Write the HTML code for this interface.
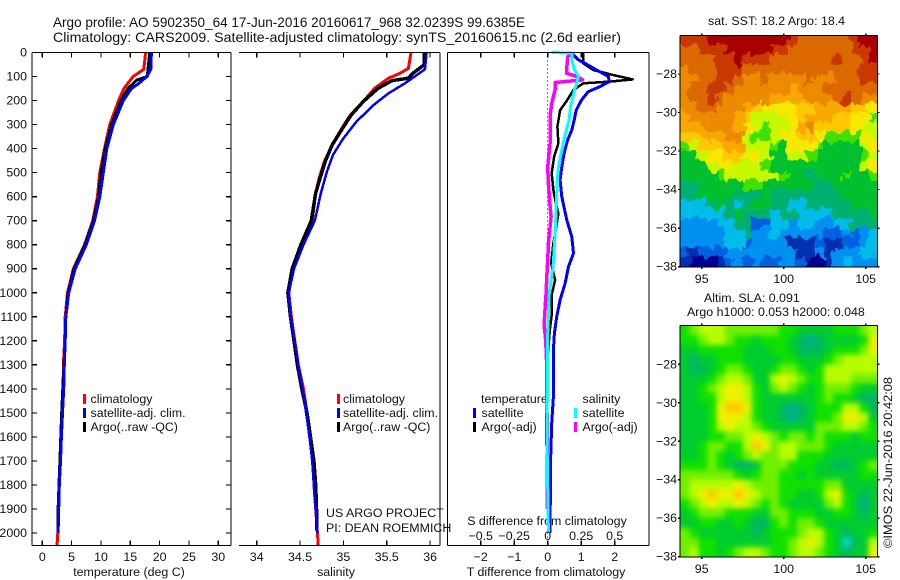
<!DOCTYPE html>
<html>
<head>
<meta charset="utf-8">
<title>Argo profile</title>
<style>
html,body{margin:0;padding:0;background:#fff;}
#chart{display:block;width:900px;height:580px;}
text{font-family:"Liberation Sans",sans-serif;font-size:12.4px;fill:#111;}
.title{font-size:14px;}
</style>
</head>
<body>
<svg id="chart" xmlns="http://www.w3.org/2000/svg" width="900" height="580" viewBox="0 0 900 580">
<defs>
<clipPath id="sstClip"><rect x="680" y="35.5" width="197.5" height="231.5"/></clipPath>
<clipPath id="slaClip"><rect x="680" y="325.5" width="197.5" height="231.5"/></clipPath>
<filter id="sstTexture" color-interpolation-filters="sRGB">
<feTurbulence type="fractalNoise" baseFrequency="0.14 0.09" numOctaves="2" seed="4" result="noise"/>
<feDisplacementMap in="SourceGraphic" in2="noise" scale="14" xChannelSelector="R" yChannelSelector="G" result="shifted"/>
<feMerge><feMergeNode in="SourceGraphic"/><feMergeNode in="shifted"/></feMerge>
</filter>
<filter id="slaSmooth" color-interpolation-filters="sRGB">
<feGaussianBlur in="SourceGraphic" stdDeviation="2.6"/>
<feComponentTransfer><feFuncA type="linear" slope="40"/></feComponentTransfer>
</filter>
</defs>
<rect width="900" height="580" fill="#fff"/>
<text class="title" x="53" y="27" textLength="472" lengthAdjust="spacingAndGlyphs">Argo profile: AO 5902350_64 17-Jun-2016 20160617_968 32.0239S 99.6385E</text>
<text class="title" x="53" y="42" textLength="568" lengthAdjust="spacingAndGlyphs">Climatology: CARS2009. Satellite-adjusted climatology: synTS_20160615.nc (2.6d earlier)</text>
<text x="129" y="576" text-anchor="middle">temperature (deg C)</text>
<text x="336" y="576" text-anchor="middle">salinity</text>
<text x="546" y="576" text-anchor="middle">T difference from climatology</text>
<text x="547" y="525" text-anchor="middle">S difference from climatology</text>
<text x="326" y="517">US ARGO PROJECT</text>
<text x="326" y="532">PI: DEAN ROEMMICH</text>
<text x="708" y="25">sat. SST: 18.2 Argo: 18.4</text>
<text x="704" y="302">Altim. SLA: 0.091</text>
<text x="687" y="316">Argo h1000: 0.053 h2000: 0.048</text>
<text x="0" y="0" transform="translate(892,548) rotate(-90)" textLength="171" lengthAdjust="spacingAndGlyphs">©IMOS 22-Jun-2016 20:42:08</text>
<g>
<rect x="83" y="394" width="3" height="10" fill="#f00"/>
<text x="90.5" y="403">climatology</text>
<rect x="83" y="408" width="3" height="10" fill="#00f"/>
<text x="90.5" y="417">satellite-adj. clim.</text>
<rect x="83" y="422" width="3" height="10" fill="#000"/>
<text x="90.5" y="431">Argo(..raw -QC)</text>
</g>
<g>
<rect x="337" y="394" width="3" height="10" fill="#f00"/>
<text x="343" y="403">climatology</text>
<rect x="337" y="408" width="3" height="10" fill="#00f"/>
<text x="343" y="417">satellite-adj. clim.</text>
<rect x="337" y="422" width="3" height="10" fill="#000"/>
<text x="343" y="431">Argo(..raw -QC)</text>
</g>
<g>
<text x="481" y="403">temperature</text>
<rect x="473" y="408" width="3" height="10" fill="#00f"/>
<text x="481.5" y="417">satellite</text>
<rect x="473" y="422" width="3" height="10" fill="#000"/>
<text x="481.5" y="431">Argo(-adj)</text>
<text x="582.5" y="403">salinity</text>
<rect x="574" y="408" width="3" height="10" fill="#0ff"/>
<text x="582.5" y="417">satellite</text>
<rect x="574" y="422" width="3" height="10" fill="#f0f"/>
<text x="582.5" y="431">Argo(-adj)</text>
</g>
</svg>
<script>
// ---------- tick labels ----------
const depthTicks = [0,100,200,300,400,500,600,700,800,900,1000,1100,1200,1300,1400,1500,1600,1700,1800,1900,2000];
const tempTicks = [0,5,10,15,20,25,30];
const salTicks = [34,34.5,35,35.5,36];
const tDiffTicks = [-2,-1,0,1,2];
const sDiffTicks = [-0.5,-0.25,0,0.25,0.5];
const lonTicks = [95,100,105];
const latTicks = [-28,-30,-32,-34,-36,-38];

// ---------- temperature profiles ----------
const tempClimDepth = [0,70,100,150,200,300,400,500,600,700,800,900,1000,1100,1200,1300,1400,1500,1600,1700,1800,1900,2000,2054];
const tempClimValue = [17.6,17.3,15.5,13.9,13.0,11.5,10.6,9.8,9.4,8.6,7.2,5.3,4.3,3.9,3.8,3.6,3.55,3.4,3.25,3.07,2.9,2.8,2.65,2.5];
const tempArgoDepth = [0,100,115,150,200,300,400,500,600,700,800,900,1000,1100,1200,1300,1400,1500,1600,1700,1800,1900,2000];
const tempArgoValue = [18.3,17.9,16.1,14.6,13.4,11.8,10.7,10.0,9.6,8.7,7.3,5.4,4.4,4.0,3.9,3.7,3.5,3.3,3.15,3.0,2.85,2.7,2.65];
const tempSatDepth = [0,70,100,130,150,200,300,400,500,600,700,800,900,1000,1100,1200,1300,1400,1500,1600,1700,1800,1900,2000];
const tempSatValue = [18.6,18.5,17.8,16.4,15.2,13.8,12.1,11.0,10.4,9.8,8.9,7.5,5.6,4.5,4.0,3.9,3.75,3.65,3.45,3.25,3.1,2.9,2.8,2.7];

// ---------- salinity profiles ----------
const salClimDepth = [0,66,87,107,149,204,260,316,385,454,524,585,700,800,900,1000,1100,1200,1300,1400,1500,1600,1700,1800,1900,2000,2054];
const salClimValue = [35.78,35.75,35.65,35.52,35.36,35.23,35.08,34.98,34.87,34.78,34.72,34.68,34.64,34.52,34.42,34.37,34.40,34.44,34.48,34.54,34.58,34.61,34.65,34.66,34.68,34.70,34.71];
const salArgoDepth = [0,52,87,107,117,149,204,260,316,385,454,524,585,700,800,900,1000,1100,1200,1300,1400,1500,1600,1700,1800,1900,1990];
const salArgoValue = [35.93,35.93,35.80,35.75,35.56,35.40,35.23,35.09,34.99,34.87,34.79,34.73,34.68,34.63,34.51,34.41,34.36,34.39,34.43,34.47,34.52,34.58,34.62,34.66,34.68,34.69,34.69];
const salSatDepth = [0,70,93,128,170,218,288,357,426,496,585,700,800,900,1000,1100,1200,1300,1400,1500,1600,1700,1800,1900,2000];
const salSatValue = [35.96,35.94,35.85,35.71,35.52,35.35,35.15,35.00,34.88,34.81,34.74,34.67,34.54,34.43,34.37,34.39,34.44,34.48,34.53,34.57,34.61,34.64,34.66,34.68,34.70];

// ---------- difference profiles ----------
const dTSatDepth = [3,31,45,73,100,121,142,163,198,240,281,323,365,420,476,531,600,697,767,836,891,961,1030,1100,1169,1238,1363,1433,1543,1682,2000];
const dTSatValue = [0.72,0.92,1.11,1.46,1.81,1.84,1.56,1.21,1.01,0.85,0.79,0.72,0.59,0.49,0.42,0.37,0.42,0.57,0.72,0.77,0.62,0.52,0.37,0.27,0.20,0.17,0.17,0.17,0.12,0.09,0.07];
const dTArgoDepth = [3,45,73,94,112,121,128,156,205,240,309,378,434,503,573,642,670,794,877,947,1009,1092,1148,1307,1543,1800,2000];
const dTArgoValue = [1.06,1.06,1.36,1.96,2.54,1.86,1.06,0.77,0.55,0.37,0.29,0.32,0.19,0.12,0.17,0.27,0.32,0.17,0.10,0.22,0.12,0.12,0.07,-0.03,-0.05,-0.01,0.02];
const dSSatDepth = [0,3,31,73,100,121,156,226,281,365,476,545,614,698,753,891,1002,1169,1363,1543,2000];
const dSSatValue = [0.03,0.18,0.18,0.20,0.23,0.22,0.20,0.17,0.16,0.12,0.08,0.07,0.065,0.06,0.055,0.04,0.012,0,0,-0.007,0.005];
const dSArgoDepth = [3,17,45,87,100,114,125,156,212,253,365,476,545,656,683,794,870,933,1002,1072,1134,1197,1307,1500,1700,1900];
const dSArgoValue = [0.18,0.15,0.145,0.14,0.22,0.26,0.055,0.055,0.03,0.02,0.02,0,0.005,0.02,0.025,0.005,0,-0.007,-0.012,-0.02,-0.027,-0.015,-0.007,-0.005,-0.004,-0.004];

// ---------- map grids (colour levels; rows north to south) ----------
const sstRow00 = [14,14,14,15,15,15,15,15,15,15,15,15,14,13,13,13,13,13,13,14,15,15];
const sstRow01 = [13,13,14,14,14,15,15,15,15,15,14,14,13,13,13,13,13,13,13,14,14,15];
const sstRow02 = [13,13,13,13,14,14,15,14,14,14,13,13,13,13,13,13,13,14,13,13,14,15];
const sstRow03 = [12,13,13,13,14,14,14,13,13,13,13,13,13,13,13,13,13,13,13,13,14,14];
const sstRow04 = [12,12,13,13,14,14,13,12,12,13,12,12,12,12,13,12,12,13,13,13,14,14];
const sstRow05 = [12,13,13,14,14,13,12,12,12,12,12,12,11,12,12,12,13,13,13,13,13,13];
const sstRow06 = [12,13,13,14,13,12,12,12,12,12,11,11,11,11,12,12,12,13,14,13,12,12];
const sstRow07 = [12,12,13,13,12,12,12,11,10,9,9,9,9,10,10,11,11,11,11,10,10,9];
const sstRow08 = [11,12,12,12,12,12,11,10,8,8,8,8,9,10,11,11,11,10,10,9,9,7];
const sstRow09 = [11,11,11,12,12,12,11,9,8,7,8,8,9,11,12,10,10,10,10,9,8,8];
const sstRow10 = [10,10,11,11,11,12,12,8,7,7,8,9,9,10,10,9,7,7,7,7,9,8];
const sstRow11 = [7,8,10,10,10,11,11,8,8,8,7,6,9,9,9,7,6,6,6,6,8,9];
const sstRow12 = [6,6,8,9,9,10,10,9,9,8,6,6,8,8,7,6,6,6,6,6,7,8];
const sstRow13 = [6,6,6,8,9,9,8,8,8,7,6,6,6,6,6,6,6,6,6,6,8,9];
const sstRow14 = [6,6,6,6,7,8,8,8,8,8,8,7,6,6,5,6,6,6,7,6,6,7];
const sstRow15 = [5,5,6,6,6,6,6,7,7,6,6,6,6,6,6,5,5,6,6,6,6,6];
const sstRow16 = [5,5,6,6,6,6,5,5,5,6,5,5,5,5,5,5,5,5,6,6,6,6];
const sstRow17 = [4,4,4,5,6,5,4,5,6,6,5,5,4,4,5,5,5,5,5,6,6,6];
const sstRow18 = [4,4,4,4,4,5,6,5,5,5,4,5,5,4,4,4,4,5,5,5,5,6];
const sstRow19 = [3,3,3,3,4,4,5,5,2,2,4,4,3,4,4,3,3,4,4,5,5,5];
const sstRow20 = [3,3,3,3,3,4,4,5,3,3,4,3,3,3,3,3,2,2,3,2,3,4];
const sstRow21 = [3,3,3,3,3,4,4,2,3,3,3,3,1,1,1,2,1,1,2,2,3,4];
const sstRow22 = [2,1,2,2,2,3,3,3,3,3,3,3,3,1,1,3,1,3,3,3,4,4];
const sstRow23 = [1,0,0,0,1,2,3,2,3,2,2,3,3,2,0,0,1,3,4,3,3,3];
const sstGrid = [sstRow00,sstRow01,sstRow02,sstRow03,sstRow04,sstRow05,sstRow06,sstRow07,sstRow08,sstRow09,sstRow10,sstRow11,sstRow12,sstRow13,sstRow14,sstRow15,sstRow16,sstRow17,sstRow18,sstRow19,sstRow20,sstRow21,sstRow22,sstRow23];

const slaRow00 = [4,5,6,6,6,5,5,5,5,5,5,4,4,3,3,3,3,4,4,4,5,6];
const slaRow01 = [4,4,5,6,6,5,4,4,3,4,4,4,3,2,1,2,3,3,3,3,4,7];
const slaRow02 = [3,3,4,4,4,4,4,3,3,3,4,4,3,2,2,2,3,4,4,4,5,7];
const slaRow03 = [3,2,3,3,4,4,4,3,3,3,3,4,4,3,3,3,4,5,6,6,6,6];
const slaRow04 = [3,2,2,3,4,5,5,4,3,3,4,5,5,4,3,4,6,6,6,6,6,6];
const slaRow05 = [3,3,3,4,5,6,6,5,3,3,6,7,6,5,4,4,6,6,6,5,5,5];
const slaRow06 = [3,3,4,5,6,7,7,6,4,3,5,6,5,4,3,4,5,5,5,4,3,3];
const slaRow07 = [3,3,4,4,6,7,7,6,4,3,3,3,3,3,3,4,5,4,4,3,2,2];
const slaRow08 = [3,3,3,4,7,8,8,7,4,3,3,2,1,2,3,4,4,4,6,6,4,2];
const slaRow09 = [3,3,3,4,7,7,7,6,4,3,3,2,1,2,3,4,4,5,7,7,6,3];
const slaRow10 = [3,3,3,4,6,7,6,6,5,4,3,3,3,3,3,5,5,5,6,6,5,4];
const slaRow11 = [3,3,3,4,4,5,5,6,7,6,5,4,5,5,4,5,4,4,4,3,4,4];
const slaRow12 = [3,3,4,5,5,4,4,6,8,7,5,6,6,5,5,5,4,3,3,3,3,3];
const slaRow13 = [3,3,4,5,4,3,4,5,6,5,5,6,6,4,4,4,3,3,3,3,3,3];
const slaRow14 = [4,4,4,5,4,3,2,2,3,5,5,5,4,4,4,3,3,2,2,3,4,5];
const slaRow15 = [5,5,5,5,5,5,4,3,4,5,5,4,4,3,4,3,3,3,3,3,4,4];
const slaRow16 = [5,6,6,6,6,6,7,6,5,5,5,4,4,4,4,4,5,5,3,3,3,3];
const slaRow17 = [5,6,7,8,7,7,8,7,6,5,5,4,4,3,3,4,6,7,4,3,2,3];
const slaRow18 = [4,5,6,7,6,6,7,6,5,4,5,4,3,3,3,3,5,6,4,3,1,3];
const slaRow19 = [3,4,5,5,5,4,4,4,3,3,5,5,4,4,4,3,3,4,4,3,2,3];
const slaRow20 = [3,3,4,4,3,3,4,3,2,2,4,5,4,5,5,4,3,3,3,3,3,3];
const slaRow21 = [5,4,3,3,3,3,3,3,2,3,4,4,4,5,6,6,4,3,2,3,3,4];
const slaRow22 = [5,5,4,4,3,3,3,3,3,3,4,4,5,6,7,6,4,3,0,2,3,6];
const slaRow23 = [5,6,4,4,3,4,5,6,6,5,4,4,5,6,6,5,4,3,2,3,3,7];
const slaGrid = [slaRow00,slaRow01,slaRow02,slaRow03,slaRow04,slaRow05,slaRow06,slaRow07,slaRow08,slaRow09,slaRow10,slaRow11,slaRow12,slaRow13,slaRow14,slaRow15,slaRow16,slaRow17,slaRow18,slaRow19,slaRow20,slaRow21,slaRow22,slaRow23];

const sstColors = ['#000090','#0030b0','#0060e0','#0090f0','#00bce8','#00b070','#00c030','#40e000','#c8f800','#f8e800','#ffc800','#f8a800','#ec8a00','#dc6800','#c83800','#a80000'];
const slaColors = ['#00d8d0','#00b090','#00b860','#00cc30','#10e000','#70f000','#b8fc00','#f0f000','#ffc800'];

const svg = document.getElementById('chart');
const NS = 'http://www.w3.org/2000/svg';
function mk(tag, parent, attrs) {
  const e = document.createElementNS(NS, tag);
  for (const k in attrs) e.setAttribute(k, attrs[k]);
  parent.appendChild(e);
  return e;
}

// ---------- axis functions ----------
const depthY = d => 52.5 + d * 0.24025;
const tempX = t => 42.3 + t * 5.867;
const salX = s => 256.7 + (s - 34) * 86.7;
const tDiffX = t => 547.7 + t * 33.5;
const sDiffX = s => 547.7 + s * 134;
const lonX = l => 701.7 + (l - 95) * 16.4;
const sstLatY = l => 74 + (-28 - l) * 19.27;
const slaLatY = l => 364.3 + (-28 - l) * 19.24;

const TOP = 52.5, BOT = 545.5;

function axisLine(parent, x1, y1, x2, y2) {
  const el = mk('line', parent, {x1:x1, y1:y1, x2:x2, y2:y2, stroke:'#000', 'stroke-width':1.2, 'shape-rendering':'crispEdges'});
  
  
}
function label(parent, x, y, str, anchor) {
  const el = mk('text', parent, {x:x, y:y, 'text-anchor':anchor});
  el.textContent = str;
  
  
}
function plotLine(parent, depths, values, xf, color, width, name) {
  const pts = depths.map((d, i) => xf(values[i]).toFixed(1) + ',' + depthY(d).toFixed(1)).join(' ');
  const el = mk('polyline', parent, {points:pts, fill:'none', stroke:color, 'stroke-width':width, 'stroke-linejoin':'round', 'shape-rendering':'crispEdges'});
  
  
}

// temperature panel
const gTemp = mk('g', svg, {});


plotLine(gTemp, tempClimDepth, tempClimValue, tempX, '#f00', 3, 'temperature-climatology-line');
plotLine(gTemp, tempArgoDepth, tempArgoValue, tempX, '#000', 3, 'temperature-argo-line');
plotLine(gTemp, tempSatDepth, tempSatValue, tempX, '#00f', 3, 'temperature-satellite-line');
axisLine(gTemp, 32, TOP, 231, TOP);
axisLine(gTemp, 32, BOT, 231, BOT);
axisLine(gTemp, 32, TOP, 32, BOT);
axisLine(gTemp, 231, TOP, 231, BOT);
depthTicks.forEach(d => {
  axisLine(gTemp, 32, depthY(d), 37, depthY(d));
  axisLine(gTemp, 226, depthY(d), 231, depthY(d));
  label(gTemp, 27, depthY(d) + 4, String(d), 'end');
});
tempTicks.forEach(t => {
  axisLine(gTemp, tempX(t), TOP, tempX(t), TOP + 5);
  axisLine(gTemp, tempX(t), BOT - 5, tempX(t), BOT);
  label(gTemp, tempX(t), 561, String(t), 'middle');
});

// salinity panel
const gSal = mk('g', svg, {});


plotLine(gSal, salClimDepth, salClimValue, salX, '#f00', 3, 'salinity-climatology-line');
plotLine(gSal, salArgoDepth, salArgoValue, salX, '#000', 3.5, 'salinity-argo-line');
plotLine(gSal, salSatDepth, salSatValue, salX, '#00f', 2.5, 'salinity-satellite-line');
axisLine(gSal, 239, TOP, 440, TOP);
axisLine(gSal, 239, BOT, 440, BOT);
axisLine(gSal, 440, TOP, 440, BOT);
salTicks.forEach(s => {
  axisLine(gSal, salX(s), TOP, salX(s), TOP + 5);
  axisLine(gSal, salX(s), BOT - 5, salX(s), BOT);
  label(gSal, salX(s), 561, String(s), 'middle');
});

// difference panel
const gDiff = mk('g', svg, {});


const zero = mk('line', gDiff, {x1:tDiffX(0), y1:TOP, x2:tDiffX(0), y2:BOT, stroke:'#000', 'stroke-width':1, 'stroke-dasharray':'1 3', 'shape-rendering':'crispEdges'});


plotLine(gDiff, dTArgoDepth, dTArgoValue, tDiffX, '#000', 2.5, 't-difference-argo-line');
plotLine(gDiff, dSArgoDepth, dSArgoValue, sDiffX, '#f0f', 3.5, 's-difference-argo-line');
plotLine(gDiff, dTSatDepth, dTSatValue, tDiffX, '#00f', 3, 't-difference-satellite-line');
plotLine(gDiff, dSSatDepth, dSSatValue, sDiffX, '#0ff', 3, 's-difference-satellite-line');
axisLine(gDiff, 447.5, TOP, 649, TOP);
axisLine(gDiff, 447.5, BOT, 649, BOT);
axisLine(gDiff, 447.5, TOP, 447.5, BOT);
axisLine(gDiff, 649, TOP, 649, BOT);
tDiffTicks.forEach(t => {
  axisLine(gDiff, tDiffX(t), TOP, tDiffX(t), TOP + 5);
  axisLine(gDiff, tDiffX(t), BOT - 5, tDiffX(t), BOT);
  label(gDiff, tDiffX(t), 561, String(t).replace('-', '\u2212'), 'middle');
});
sDiffTicks.forEach(s => {
  label(gDiff, sDiffX(s), 540, String(s).replace('-', '\u2212'), 'middle');
});

// maps
function drawMap(name, grid, colors, latY, top, bottom, clipId, filterId) {
  const g = mk('g', svg, {});
  
  
  const clip = mk('g', g, {'clip-path':'url(#' + clipId + ')'});
  
  
  const cells = mk('g', clip, {filter:'url(#' + filterId + ')'});
  
  
  const lon0 = 93.7, dLon = 12.03 / 22, lat0 = -26, dLat = 0.5;
  grid.forEach((row, r) => {
    row.forEach((v, c) => {
      const x1 = lonX(lon0 + c * dLon), x2 = lonX(lon0 + (c + 1) * dLon);
      const y1 = latY(lat0 - r * dLat), y2 = latY(lat0 - (r + 1) * dLat);
      const cell = mk('rect', cells, {x:x1, y:y1, width:x2 - x1 + 0.5, height:y2 - y1 + 0.5, fill:colors[v], 'shape-rendering':'crispEdges'});
      
      
    });
  });
  const L = 680, R = 877.5;
  axisLine(g, L, top, R, top);
  axisLine(g, L, bottom, R, bottom);
  axisLine(g, L, top, L, bottom);
  axisLine(g, R, top, R, bottom);
  lonTicks.forEach(l => {
    axisLine(g, lonX(l), top - 2, lonX(l), top);
    axisLine(g, lonX(l), bottom, lonX(l), bottom + 2);
    label(g, lonX(l), bottom + 16, String(l), 'middle');
  });
  latTicks.forEach(l => {
    axisLine(g, L - 2, latY(l), L, latY(l));
    axisLine(g, R, latY(l), R + 2, latY(l));
    label(g, L - 3, latY(l) + 4, String(l).replace('-', '\u2212'), 'end');
  });
}
drawMap('sst-map', sstGrid, sstColors, sstLatY, 35.5, 267, 'sstClip', 'sstTexture');
drawMap('sla-map', slaGrid, slaColors, slaLatY, 325.5, 557, 'slaClip', 'slaSmooth');
</script>
</body>
</html>
